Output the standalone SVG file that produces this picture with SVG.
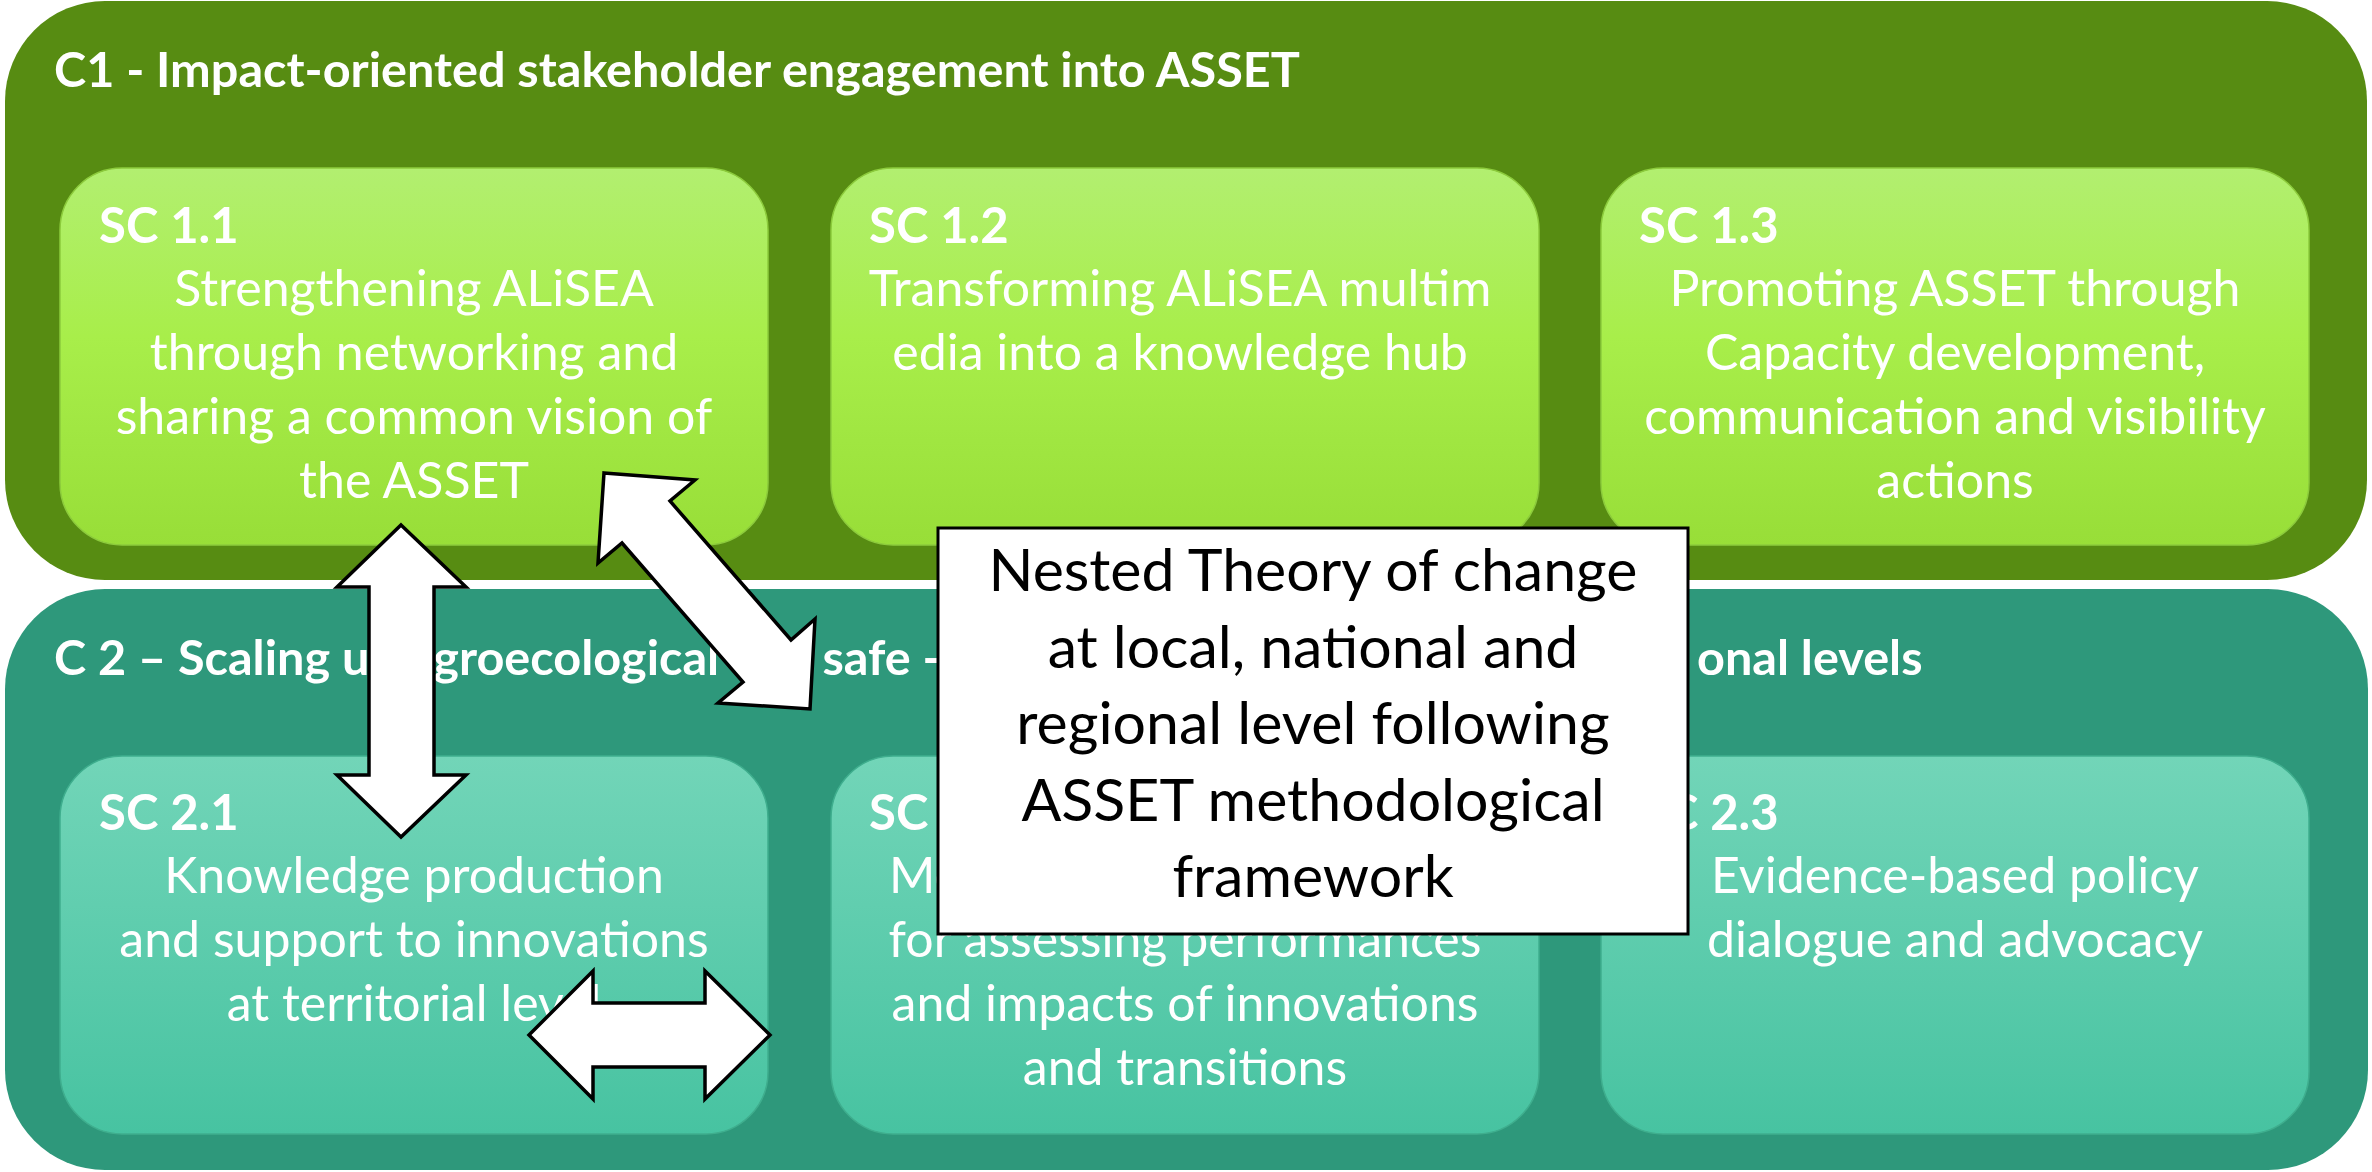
<svg xmlns="http://www.w3.org/2000/svg" width="2372" height="1172" viewBox="0 0 2372 1172">
<defs>
<linearGradient id="g1" x1="0" y1="0" x2="0" y2="1">
<stop offset="0" stop-color="#B2EF70"/>
<stop offset="0.45" stop-color="#A8EE4A"/>
<stop offset="1" stop-color="#98DE38"/>
</linearGradient>
<linearGradient id="g2" x1="0" y1="0" x2="0" y2="1">
<stop offset="0" stop-color="#72D5B8"/>
<stop offset="1" stop-color="#47C3A1"/>
</linearGradient>
<style>
.c1{fill:#578C12}
.c2{fill:#2E987B}
.s1{fill:url(#g1);stroke:#8CCB3C;stroke-width:1.5}
.s2{fill:url(#g2);stroke:#3FAE8E;stroke-width:1.5}
.t{font-family:Lato,"Liberation Sans",sans-serif;fill:#fff}
.h{font-size:48.6px;font-weight:bold}
.lb{font-size:49px;font-weight:bold}
.b{font-size:50px;text-anchor:middle}
.arr{fill:#fff;stroke:#000;stroke-width:3.5;stroke-linejoin:miter}
.nb{fill:#fff;stroke:#000;stroke-width:3}
.nt{font-family:Lato,"Liberation Sans",sans-serif;font-size:59px;fill:#000;text-anchor:middle}
</style>
</defs>
<g id="C1">
<rect class="c1" x="5" y="1" width="2362" height="579" rx="100"/>
<text class="t h" x="54" y="87">C1 - Impact-oriented stakeholder engagement into ASSET</text>
</g>
<g id="C2">
<rect class="c2" x="5" y="589" width="2363" height="581" rx="100"/>
<text class="t h" x="54" y="675">C 2 – Scaling up agroecological and safe - food systems at national and regi<tspan x="1697">onal levels</tspan></text>
</g>
<g id="SC1.1">
<rect class="s1" x="60" y="168" width="708" height="377" rx="62"/>
<text class="t lb" x="99" y="243">SC 1.1</text>
<text class="t b" x="414" y="306">Strengthening ALiSEA</text>
<text class="t b" x="414" y="370">through networking and</text>
<text class="t b" x="414" y="434">sharing a common vision of</text>
<text class="t b" x="414" y="498">the ASSET</text>
</g>
<g id="SC1.2">
<rect class="s1" x="831" y="168" width="708" height="377" rx="62"/>
<text class="t lb" x="869" y="243">SC 1.2</text>
<text class="t b" x="1180" y="306">Transforming ALiSEA multim</text>
<text class="t b" x="1180" y="370">edia into a knowledge hub</text>
</g>
<g id="SC1.3">
<rect class="s1" x="1601" y="168" width="708" height="377" rx="62"/>
<text class="t lb" x="1639" y="243">SC 1.3</text>
<text class="t b" x="1955" y="306">Promoting ASSET through</text>
<text class="t b" x="1955" y="370">Capacity development,</text>
<text class="t b" x="1955" y="434">communication and visibility</text>
<text class="t b" x="1955" y="498">actions</text>
</g>
<g id="SC2.1">
<rect class="s2" x="60" y="756" width="708" height="378" rx="62"/>
<text class="t lb" x="99" y="830">SC 2.1</text>
<text class="t b" x="414" y="893">Knowledge production</text>
<text class="t b" x="414" y="957">and support to innovations</text>
<text class="t b" x="414" y="1021">at territorial level</text>
</g>
<g id="SC2.2">
<rect class="s2" x="831" y="756" width="708" height="378" rx="62"/>
<text class="t lb" x="869" y="830">SC 2.2</text>
<text class="t b" x="1185" y="893">Methodological framework</text>
<text class="t b" x="1185" y="957">for assessing performances</text>
<text class="t b" x="1185" y="1021">and impacts of innovations</text>
<text class="t b" x="1185" y="1085">and transitions</text>
</g>
<g id="SC2.3">
<rect class="s2" x="1601" y="756" width="708" height="378" rx="62"/>
<text class="t lb" x="1639" y="830">SC 2.3</text>
<text class="t b" x="1955" y="893">Evidence-based policy</text>
<text class="t b" x="1955" y="957">dialogue and advocacy</text>
</g>
<g id="connectors">
<polygon class="arr" points="401,525 466,587 434,587 434,775 466,775 401,837 337,775 369,775 369,587 337,587"/>
<polygon class="arr" points="529,1035 593,971 593,1003 705,1003 705,971 770,1035 705,1099 705,1067 593,1067 593,1099"/>
<polygon class="arr" points="604,473 695,480 670,501 791,640 815,619 810,709 718,703 743,682 622,543 598,563"/>
</g>
<g id="ToC">
<rect class="nb" x="938" y="528" width="750" height="406"/>
<text class="nt" x="1313" y="591">Nested Theory of change</text>
<text class="nt" x="1313" y="668">at local, national and</text>
<text class="nt" x="1313" y="744">regional level following</text>
<text class="nt" x="1313" y="821">ASSET methodological</text>
<text class="nt" x="1313" y="897">framework</text>
</g>
</svg>
